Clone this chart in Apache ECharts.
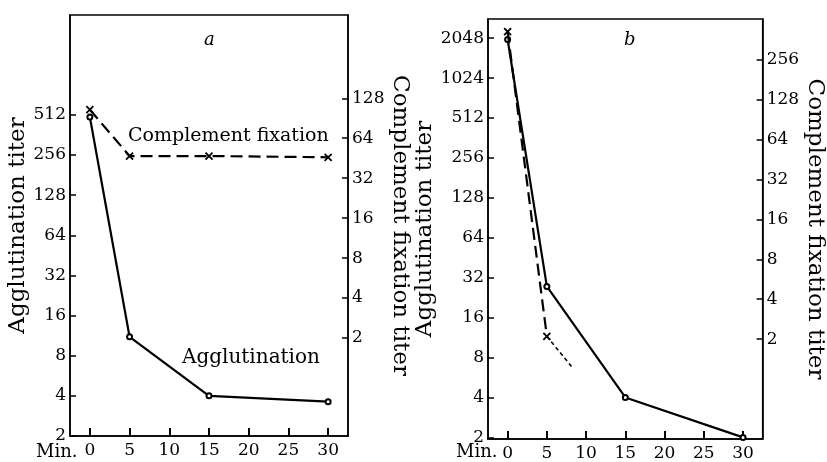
<!DOCTYPE html>
<html><head><meta charset="utf-8">
<script src="https://cdn.jsdelivr.net/npm/echarts@6/dist/echarts.min.js"></script>
<style>html,body{margin:0;padding:0;background:#fff}#c{width:827px;height:462px}</style>
</head><body><div id="c"></div>
<script>
// ---- data ----
const minutes = [0, 5, 15, 30];
const aggA = [494, 11.1, 4, 3.62];
const cfA = [105, 47, 47, 46];
const aggB = [2000, 27.5, 4, 2];
const cfMinutesB = [0, 5];
const cfB = [420, 2.1];
const cfTailMinutesB = [5, 8.3];
const cfTailB = [2.1, 1.21];
const xTicks = [0, 5, 10, 15, 20, 25, 30];
const leftTicksA = [2, 4, 8, 16, 32, 64, 128, 256, 512];
const rightTicksA = [2, 4, 8, 16, 32, 64, 128];
const leftTicksB = [2, 4, 8, 16, 32, 64, 128, 256, 512, 1024, 2048];
const rightTicksB = [2, 4, 8, 16, 32, 64, 128, 256];
const panelTitles = ['a', 'b'];
const leftName = 'Agglutination titer';
const rightName = 'Complement fixation titer';

const pair = (xs, ys) => xs.map((x, i) => [x, ys[i]]);
const FONT = 'DejaVu Serif';
const crossPath = 'path://M0,0L10,10M10,0L0,10';

function xAxis(gi) {
  return {
    type: 'value', gridIndex: gi, min: -2.5, max: 32.5,
    axisLine: { onZero: false, lineStyle: { color: '#000', width: 1.5 } },
    axisTick: { inside: true, length: 8, lineStyle: { color: '#000', width: 2 }, customValues: xTicks },
    axisLabel: { color: '#000', fontFamily: FONT, fontSize: 17, margin: 6, customValues: xTicks },
    splitLine: { show: false }
  };
}
function yAxis(gi, pos, min, max, ticks, name, rot, gap) {
  return {
    type: 'log', logBase: 2, gridIndex: gi, position: pos, min: min, max: max,
    name: name, nameLocation: 'middle', nameRotate: rot, nameGap: gap,
    nameTextStyle: { color: '#000', fontFamily: FONT, fontSize: 23 },
    axisLine: { show: true, onZero: false, lineStyle: { color: '#000', width: 1.5 } },
    axisTick: { inside: true, length: 6, lineStyle: { color: '#000', width: 1.5 }, customValues: ticks },
    axisLabel: { color: '#000', fontFamily: FONT, fontSize: 17, margin: 4, customValues: ticks,
      formatter: v => String(Math.round(v)) },
    splitLine: { show: false }, minorTick: { show: false }
  };
}

const option = {
  backgroundColor: '#fff',
  animation: false,
  grid: [
    { left: 70, top: 15, width: 278, height: 421, show: true, borderColor: '#000', borderWidth: 1.5, backgroundColor: 'transparent' },
    { left: 488, top: 19, width: 277, height: 420, show: true, borderColor: '#000', borderWidth: 1.5, backgroundColor: 'transparent' }
  ],
  xAxis: [xAxis(0), xAxis(1)],
  yAxis: [
    yAxis(0, 'left', Math.pow(2, 1), Math.pow(2, 11.49), leftTicksA, leftName, 90, 31),
    yAxis(0, 'right', Math.pow(2, -1.453), Math.pow(2, 9.085), rightTicksA, rightName, -90, 36),
    yAxis(1, 'left', Math.pow(2, 0.96), Math.pow(2, 11.48), leftTicksB, leftName, 90, 43),
    yAxis(1, 'right', Math.pow(2, -1.506), Math.pow(2, 9.03), rightTicksB, rightName, -90, 38)
  ],
  title: [
    { text: panelTitles[0], left: 199, top: 26, textStyle: { fontFamily: FONT, fontStyle: 'italic', fontWeight: 'normal', fontSize: 18, color: '#000' } },
    { text: panelTitles[1], left: 619, top: 26, textStyle: { fontFamily: FONT, fontStyle: 'italic', fontWeight: 'normal', fontSize: 18, color: '#000' } }
  ],
  graphic: [
    { type: 'text', left: 36, top: 443, style: { text: 'Min.', font: '18px "DejaVu Serif"', fill: '#000' } },
    { type: 'text', left: 456, top: 443, style: { text: 'Min.', font: '18px "DejaVu Serif"', fill: '#000' } },
    { type: 'text', left: 128, top: 127, style: { text: 'Complement fixation', font: '19px "DejaVu Serif"', fill: '#000' } },
    { type: 'text', left: 182, top: 348, style: { text: 'Agglutination', font: '20px "DejaVu Serif"', fill: '#000' } }
  ],
  series: [
    { type: 'line', xAxisIndex: 0, yAxisIndex: 0, data: pair(minutes, aggA), symbol: 'emptyCircle', symbolSize: 5,
      lineStyle: { color: '#000', width: 2.2 }, itemStyle: { color: '#000', borderWidth: 1.2 }, z: 3 },
    { type: 'line', xAxisIndex: 0, yAxisIndex: 1, data: pair(minutes, cfA), symbol: crossPath, symbolSize: 7,
      lineStyle: { color: '#000', width: 2.2, type: [12, 6] }, itemStyle: { color: '#000', borderColor: '#000', borderWidth: 1.8 }, z: 4 },
    { type: 'line', xAxisIndex: 1, yAxisIndex: 2, data: pair(minutes, aggB), symbol: 'emptyCircle', symbolSize: 5,
      lineStyle: { color: '#000', width: 2.2 }, itemStyle: { color: '#000', borderWidth: 1.2 }, clip: false, z: 3 },
    { type: 'line', xAxisIndex: 1, yAxisIndex: 3, data: pair(cfMinutesB, cfB), symbol: crossPath, symbolSize: 7,
      lineStyle: { color: '#000', width: 2.2, type: [12, 6] }, itemStyle: { color: '#000', borderColor: '#000', borderWidth: 1.8 }, z: 4 },
    { type: 'line', xAxisIndex: 1, yAxisIndex: 3, data: pair(cfTailMinutesB, cfTailB), symbol: 'none',
      lineStyle: { color: '#000', width: 1.6, type: [4, 3] }, z: 4 }
  ]
};
echarts.init(document.getElementById('c'), null, { renderer: 'canvas' }).setOption(option);
</script></body></html>
